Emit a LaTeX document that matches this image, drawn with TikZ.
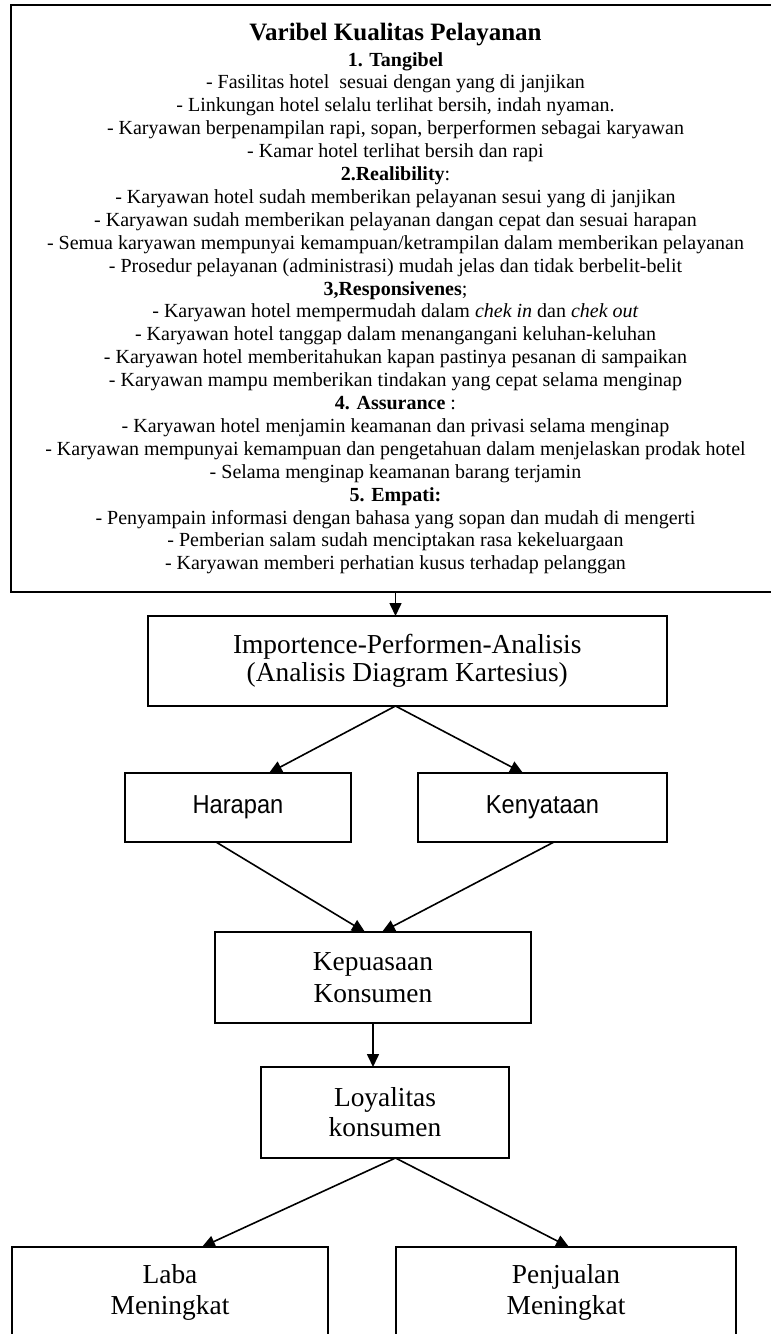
\documentclass[tikz,border=0pt]{standalone}
\usepackage{fontspec}
\setmainfont{Liberation Serif}
\newfontfamily\narrowsans[FakeStretch=0.91]{Liberation Sans}
\usetikzlibrary{arrows.meta,calc}
\tikzset{
  box/.style={draw, line width=1pt, inner sep=0pt, outer sep=0pt, align=center},
  arr/.style={line width=0.8pt, -{Triangle[length=6.5pt,width=6pt]}},
  bigtxt/.style={font=\fontsize{13.7}{#1}\selectfont},
}
\begin{document}
\begin{tikzpicture}[x=0.5pt,y=-0.5pt]
\useasboundingbox (0,0) rectangle (771,1334);
\clip (0,0) rectangle (771,1334);
\node[box, minimum width=384.5pt, minimum height=293.5pt] (top) at (395.5,298.5) {%
\begin{minipage}{380pt}\centering
{\fontsize{12.5}{13}\selectfont\bfseries Varibel Kualitas Pelayanan\par}
\vspace{1.5pt}
\fontsize{10}{11.45}\selectfont
\textbf{1. Tangibel}\par
- Fasilitas hotel\ \ sesuai dengan yang di janjikan\par
- Linkungan hotel selalu terlihat bersih, indah nyaman.\par
- Karyawan berpenampilan rapi, sopan, berperformen sebagai karyawan\par
- Kamar hotel terlihat bersih dan rapi\par
\textbf{2.Realibility}:\par
- Karyawan hotel sudah memberikan pelayanan sesui yang di janjikan\par
- Karyawan sudah memberikan pelayanan dangan cepat dan sesuai harapan\par
- Semua karyawan mempunyai kemampuan/ketrampilan dalam memberikan pelayanan\par
- Prosedur pelayanan (administrasi) mudah jelas dan tidak berbelit-belit\par
\textbf{3,Responsivenes};\par
- Karyawan hotel mempermudah dalam \textit{chek in} dan \textit{chek out}\par
- Karyawan hotel tanggap dalam menangangani keluhan-keluhan\par
- Karyawan hotel memberitahukan kapan pastinya pesanan di sampaikan\par
- Karyawan mampu memberikan tindakan yang cepat selama menginap\par
\textbf{4. Assurance} :\par
- Karyawan hotel menjamin keamanan dan privasi selama menginap\par
- Karyawan mempunyai kemampuan dan pengetahuan dalam menjelaskan prodak hotel\par
- Selama menginap keamanan barang terjamin\par
\textbf{5. Empati:}\par
- Penyampain informasi dengan bahasa yang sopan dan mudah di mengerti\par
- Pemberian salam sudah menciptakan rasa kekeluargaan\par
- Karyawan memberi perhatian kusus terhadap pelanggan\par
\end{minipage}};
\node[box, bigtxt=14, minimum width=259.75pt, minimum height=45pt] (ipa) at (407.25,661) {Importence-Performen-Analisis\\(Analisis Diagram Kartesius)};
\node[box, font=\narrowsans\fontsize{13}{15}\selectfont, minimum width=113pt, minimum height=34.5pt] (har) at (238,807.5) {Harapan};
\node[box, font=\narrowsans\fontsize{13}{15}\selectfont, minimum width=124.5pt, minimum height=34.5pt] (ken) at (542.5,807.5) {Kenyataan};
\node[box, bigtxt=16, minimum width=158pt, minimum height=45.5pt] (kep) at (373,977.5) {Kepuasaan\\Konsumen};
\node[box, bigtxt=15, minimum width=124pt, minimum height=45.5pt] (loy) at (385,1112.5) {Loyalitas\\konsumen};
\node[box, bigtxt=15.5, minimum width=158pt, minimum height=45.5pt] (laba) at (170,1292.5) {Laba\\Meningkat};
\node[box, bigtxt=15.5, minimum width=170pt, minimum height=45.5pt] (pen) at (566,1292.5) {Penjualan\\Meningkat};
\draw[arr] (top.south) -- (top.south |- ipa.north);
\draw[arr] (top.south |- ipa.south) -- ($(har.north)+(31,0)$);
\draw[arr] (top.south |- ipa.south) -- ($(ken.north)+(-19.5,0)$);
\draw[arr] ($(har.south)+(-22,0)$) -- ($(kep.north)+(-8,0)$);
\draw[arr] ($(ken.south)+(11.5,0)$) -- ($(kep.north)+(9,0)$);
\draw[arr] (kep.south) -- (kep.south |- loy.north);
\draw[arr] (top.south |- loy.south) -- ($(laba.north)+(32,0)$);
\draw[arr] (top.south |- loy.south) -- ($(pen.north)+(3,0)$);
\end{tikzpicture}
\end{document}
